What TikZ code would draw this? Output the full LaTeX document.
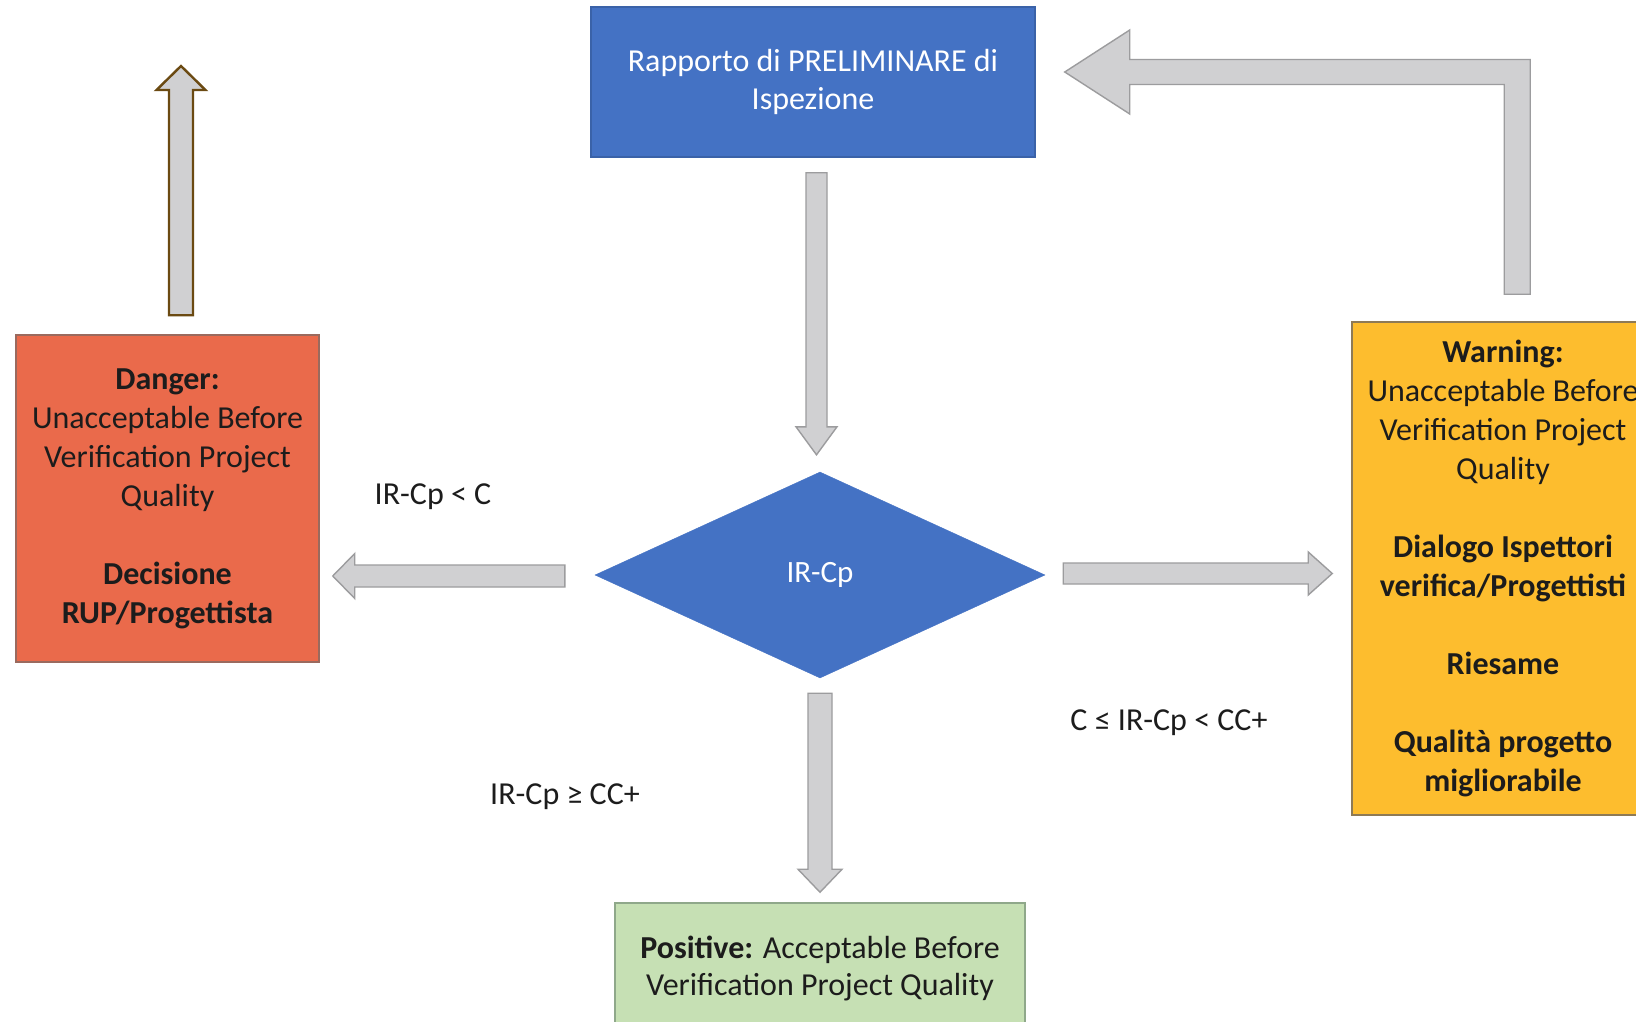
\documentclass[tikz,border=0pt]{standalone}
\usepackage{fontspec}
\setmainfont{Carlito}
\usetikzlibrary{shapes.geometric,calc}

\definecolor{boxblue}{HTML}{4472C4}
\definecolor{boxblueline}{HTML}{3A62A8}
\definecolor{dangerfill}{HTML}{EA6A4B}
\definecolor{dangerline}{HTML}{9A6A5E}
\definecolor{warnfill}{HTML}{FDBD2E}
\definecolor{warnline}{HTML}{8E7A55}
\definecolor{posfill}{HTML}{C6E0B4}
\definecolor{posline}{HTML}{8FA88A}
\definecolor{arrowfill}{HTML}{D0D0D2}
\definecolor{arrowline}{HTML}{9C9C9E}
\definecolor{brownline}{HTML}{6B4A12}
\definecolor{inkdark}{HTML}{1C1C1C}

\tikzset{
  box/.style={rectangle, inner sep=0pt, line width=1.5pt, align=center, text=inkdark},
  boxfont/.style={font=\fontsize{32}{39}\selectfont},
  fatarrowstyle/.style={draw=arrowline, fill=arrowfill, line width=1.4pt, line join=miter},
  condlabel/.style={text=inkdark, font=\fontsize{32}{38}\selectfont, inner sep=0pt}
}

% Block arrow from #2 (tail) to #3 (tip): half shaft width #4, half head width #5, head length #6
\newcommand\fatarrow[6][]{%
  \coordinate (fahead) at ($(#3)!#6!(#2)$);
  \draw[fatarrowstyle,#1]
    ($(#2)!#4!90:(#3)$) -- ($(fahead)!#4!90:(#3)$) -- ($(fahead)!#5!90:(#3)$)
    -- (#3)
    -- ($(fahead)!#5!-90:(#3)$) -- ($(fahead)!#4!-90:(#3)$) -- ($(#2)!#4!-90:(#3)$) -- cycle;}

\begin{document}
\begin{tikzpicture}[x=1pt, y=-1pt]
\useasboundingbox[fill=white] (0,0) rectangle (1636,1022);

% boxes
\node[box, boxfont, draw=boxblueline, fill=boxblue, minimum width=444pt, minimum height=150pt,
      text=white, font=\fontsize{32}{38}\selectfont] (top) at (813,82)
  {Rapporto di PRELIMINARE di\\Ispezione};

\node[diamond, fill=boxblue, draw=boxblue, inner sep=0pt, aspect=2.18,
      minimum width=450pt, minimum height=206pt, text=white,
      font=\fontsize{31}{37}\selectfont] (dia) at (820,575) {IR-Cp};

\node[box, boxfont, draw=dangerline, fill=dangerfill, minimum width=303pt, minimum height=327pt]
  (danger) at (167.5,498.5)
  {\textbf{Danger:}\\Unacceptable Before\\Verification Project\\Quality\\[39pt]
   \textbf{Decisione}\\\textbf{RUP/Progettista}};

\node[box, boxfont, draw=warnline, fill=warnfill, minimum width=302pt, minimum height=493pt]
  (warn) at (1503,568.5)
  {\textbf{Warning:}\\Unacceptable Before\\Verification Project\\Quality\\[39pt]
   \textbf{Dialogo Ispettori}\\\textbf{verifica/Progettisti}\\[39pt]
   \textbf{Riesame}\\[39pt]
   \textbf{Qualità progetto}\\\textbf{migliorabile}};

\node[box, draw=posline, fill=posfill, minimum width=410pt, minimum height=131pt,
      font=\fontsize{32}{37}\selectfont] (pos) at (820,968.5)
  {\textbf{Positive:} Acceptable Before\\Verification Project Quality};

% condition labels
\node[condlabel] (lbllt) at (433,497) {IR-Cp < C};
\node[condlabel] (lblmid) at (1169,723) {C ≤ IR-Cp < CC+};
\node[condlabel] (lblge) at (565,797) {IR-Cp ≥ CC+};

% connector end points
\coordinate (a1s) at ($(top.south)+(3.5,15)$);
\coordinate (a1t) at ($(dia.north)+(-3.5,-17)$);
\coordinate (als) at ($(dia.west)+(-30,1)$);
\coordinate (alt) at ($(danger.east |- dia.west)+(13,1)$);
\coordinate (ars) at ($(dia.east)+(18,-1.5)$);
\coordinate (art) at ($(warn.west |- dia.east)+(-19,-1.5)$);
\coordinate (abs) at ($(dia.south)+(0,15)$);
\coordinate (abt) at ($(pos.north)+(0,-10)$);
\coordinate (aus) at ($(danger.north)+(13.5,-19)$);
\coordinate (aut) at (181,66);
\coordinate (ls) at ($(warn.north west)+(166,-27)$);
\coordinate (lt) at ($(top.east)+(29,-10)$);

% block arrows
\fatarrow{a1s}{a1t}{10.5pt}{20.5pt}{28pt}
\fatarrow{als}{alt}{11pt}{22.5pt}{22pt}
\fatarrow{ars}{art}{10.5pt}{21.5pt}{24pt}
\fatarrow{abs}{abt}{12pt}{22pt}{23pt}
\fatarrow[draw=brownline, line width=2.4pt]{aus}{aut}{12pt}{24.5pt}{24pt}

% bent arrow from the warning box back to the report
\draw[fatarrowstyle]
  ($(ls)+(-13,0)$) -- ($(ls)+(13,0)$) -- ($(ls |- lt)+(13,-12.5)$)
  -- ($(lt)+(65,-12.5)$) -- ($(lt)+(65,-42)$) -- (lt) -- ($(lt)+(65,42)$)
  -- ($(lt)+(65,12.5)$) -- ($(ls |- lt)+(-13,12.5)$) -- cycle;
\end{tikzpicture}
\end{document}
